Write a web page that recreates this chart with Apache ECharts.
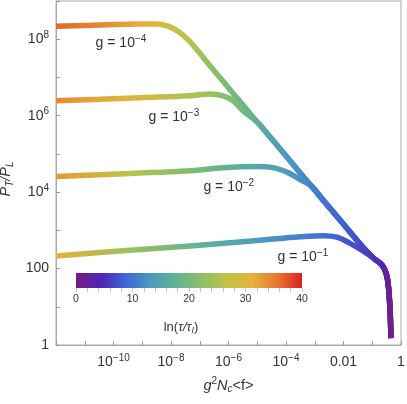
<!DOCTYPE html>
<html>
<head>
<meta charset="utf-8">
<script src="https://cdn.jsdelivr.net/npm/echarts@6/dist/echarts.min.js"></script>
<style>
html, body { margin: 0; padding: 0; background: #fff; }
#chart { width: 407px; height: 404px; }
</style>
</head>
<body>
<div id="chart"></div>
<script>
// every point: [log10(g^2 Nc <f>), log10(P_T/P_L), ln(tau/tau_I)]
// common early-time attractor, from the initial condition upward
var attractor = [
    [-0.35, 0.18, 0],
    [-0.37, 0.73, 0.8],
    [-0.40, 1.17, 1.5],
    [-0.45, 1.62, 2.3],
    [-0.52, 1.88, 3],
    [-0.66, 2.09, 4],
    [-0.97, 2.28, 5.5],
    [-1.43, 2.65, 7],
    [-2.02, 3.18, 8.5],
    [-2.71, 3.79, 10],
    [-3.27, 4.29, 11.5],
    [-3.86, 4.82, 13],
    [-4.45, 5.35, 15],
    [-5.01, 5.84, 17],
    [-5.60, 6.37, 19],
    [-6.19, 6.90, 21],
    [-6.64, 7.30, 23]
];

// late-time branches, one per coupling
var branch4 = [
    [-7.06, 7.69, 24.5], [-7.41, 7.99, 26], [-7.76, 8.21, 27.5], [-8.10, 8.34, 28.5],
    [-8.52, 8.40, 30], [-9.08, 8.40, 31.5], [-10.47, 8.37, 34.5], [-12, 8.34, 36.5]
];
var branch3 = [
    [-5.50, 6.13, 19.5], [-5.84, 6.39, 21], [-6.19, 6.52, 22], [-6.64, 6.57, 23.5],
    [-7.34, 6.52, 25], [-9.08, 6.47, 29.5], [-10.47, 6.43, 32], [-12, 6.39, 34.5]
];
var branch2 = [
    [-3.10, 4.15, 11], [-3.51, 4.33, 12.5], [-3.93, 4.51, 13.5], [-4.45, 4.64, 14.5],
    [-5.01, 4.67, 15.5], [-6.19, 4.64, 18], [-7.34, 4.56, 21], [-9.43, 4.49, 26.5], [-12, 4.41, 33]
];
var branch1 = [
    [-1.36, 2.48, 6.5], [-1.77, 2.66, 7.5], [-2.23, 2.82, 8.5], [-2.71, 2.86, 9.5],
    [-3.51, 2.83, 11], [-4.90, 2.74, 13.5], [-6.99, 2.61, 17.5], [-9.43, 2.48, 23.5], [-12, 2.33, 31]
];

var gExponents = ['\u22124', '\u22123', '\u22122', '\u22121'];
var branches = [branch4, branch3, branch2, branch1];
var sharedCount = [17, 14, 10, 7];   // attractor points followed before branching off

var tauRange = [0, 40];
var palette = ['#781c86', '#4f25b5', '#4067d7', '#4b9bbf', '#62b391',
               '#8cc066', '#bfc348', '#e4b33c', '#e9782f', '#db2122'];

var labelCoords = [[-10.64, 7.90], [-8.80, 5.95], [-6.89, 4.12], [-4.31, 2.30]];

var txt = '#333';
var font = "'Liberation Sans', Arial, sans-serif";

// rich text pieces, all top aligned and shifted with padding (base / superscript / subscript)
function piece(size, top, bottom, italic) {
    return {
        fontSize: size, fontStyle: italic ? 'italic' : 'normal', fontFamily: font, color: txt,
        verticalAlign: 'top', padding: [top, 0, bottom, 0]
    };
}
var rich = {
    b: piece(14, 2, 2, false),
    s: piece(10, 0, 0, false)
};
var nameRich = {
    r: piece(14.5, 2, 2, false),
    i: piece(14.5, 2, 2, true),
    s: piece(10, 0, 0, false),
    u: piece(10, 8, 0, true)
};
var barNameRich = {
    r: piece(13, 2, 2, false),
    i: piece(13, 2, 2, true),
    u: piece(9, 7, 0, true)
};

function xLabel(v) {
    if (v % 2 !== 0 || v <= -12) return '';
    if (v === 0) return '{b|1}';
    if (v === -2) return '{b|0.01}';
    return '{b|10}{s|\u2212' + (-v) + '}';
}
function yLabel(v) {
    if (v % 2 !== 0) return '';
    if (v === 0) return '{b|1}';
    if (v === 2) return '{b|100}';
    return '{b|10}{s|' + v + '}';
}
function tauColor(t) {
    return echarts.color.lerp((t - tauRange[0]) / (tauRange[1] - tauRange[0]), palette);
}

var curves = branches.map(function (b, i) {
    return attractor.slice(0, sharedCount[i]).concat(b);
});

var series = curves.map(function (pts, i) {
    return {
        type: 'line',
        xAxisIndex: 0,
        yAxisIndex: 0,
        data: pts.map(function (p) { return [p[0], p[1]]; }),
        showSymbol: false,
        smooth: 0.4,
        silent: true,
        lineStyle: {width: 5.5, color: tauColor(20)},
        markPoint: {
            symbol: 'circle',
            symbolSize: 1,
            itemStyle: {color: 'rgba(0,0,0,0)'},
            silent: true,
            label: {
                show: true,
                position: 'right',
                distance: 0,
                formatter: '{b|g = 10}{s|' + gExponents[i] + '}',
                rich: rich
            },
            data: [{coord: labelCoords[i]}]
        }
    };
});

series.push({
    type: 'custom',
    xAxisIndex: 1,
    yAxisIndex: 1,
    silent: true,
    data: [tauRange],
    encode: {x: [0, 1]},
    renderItem: function (params, api) {
        var p0 = api.coord([api.value(0), 1]);
        var p1 = api.coord([api.value(1), 0]);
        return {
            type: 'rect',
            shape: {x: p0[0], y: p0[1], width: p1[0] - p0[0], height: p1[1] - p0[1]},
            style: {
                fill: new echarts.graphic.LinearGradient(0, 0, 1, 0, palette.map(function (c, k) {
                    return {offset: k / (palette.length - 1), color: c};
                }))
            }
        };
    }
});

var option = {
    animation: false,
    textStyle: {fontFamily: font},
    grid: [
        {left: 56, right: 6, top: 1, bottom: 59, show: true, borderColor: '#aaa', borderWidth: 1,
         outerBoundsMode: 'none'},
        {left: 76, top: 273, width: 226, height: 15, outerBoundsMode: 'none'}
    ],
    xAxis: [{
        type: 'value', gridIndex: 0, min: -12, max: 0, interval: 1,
        axisLine: {onZero: false, lineStyle: {color: '#aaa'}},
        axisTick: {inside: true, length: 4, lineStyle: {color: '#999'}},
        splitLine: {show: false},
        axisLabel: {formatter: xLabel, rich: rich, margin: 8, showMinLabel: true, showMaxLabel: true},
        name: '{i|g}{s|2}{i|N}{u|c}{r|<f>}',
        nameLocation: 'middle',
        nameGap: 31.5,
        nameTextStyle: {rich: nameRich}
    }, {
        type: 'value', gridIndex: 1, min: tauRange[0], max: tauRange[1], interval: 10,
        axisLine: {show: false, onZero: false},
        axisTick: {show: true, length: 4, lineStyle: {color: '#c4c4c4'}},
        minorTick: {show: true, splitNumber: 5, length: 4, lineStyle: {color: '#c4c4c4'}},
        splitLine: {show: false},
        axisLabel: {color: txt, fontSize: 10.5, margin: 6},
        name: '{r|ln(}{i|τ/τ}{u|I}{r|)}',
        nameLocation: 'middle',
        nameGap: 31,
        nameTextStyle: {padding: [0, 16, 0, 0], rich: barNameRich}
    }],
    yAxis: [{
        type: 'value', gridIndex: 0, min: 0, max: 9, interval: 1,
        axisLine: {onZero: false, lineStyle: {color: '#aaa'}},
        axisTick: {inside: true, length: 4, lineStyle: {color: '#999'}},
        splitLine: {show: false},
        axisLabel: {formatter: yLabel, rich: rich, margin: 7},
        name: '{i|P}{u|T}{i|/P}{u|L}',
        nameLocation: 'middle',
        nameRotate: 90,
        nameGap: 38,
        nameTextStyle: {padding: [0, 12, 0, 0], rich: nameRich}
    }, {
        type: 'value', gridIndex: 1, min: 0, max: 1, show: false
    }],
    series: series
};

var chart = echarts.init(document.getElementById('chart'));
chart.setOption(option);

// colour each curve by ln(tau/tau_I); x falls monotonically along every curve,
// so a horizontal gradient with one stop per point follows the time axis
var lineColors = curves.map(function (pts) {
    var px = pts.map(function (p) { return chart.convertToPixel({gridIndex: 0}, [p[0], p[1]])[0]; });
    var x0 = Math.min.apply(null, px);
    var x1 = Math.max.apply(null, px);
    var stops = pts.map(function (p, k) {
        return {offset: (px[k] - x0) / (x1 - x0), color: tauColor(p[2])};
    });
    stops.sort(function (a, b) { return a.offset - b.offset; });
    return new echarts.graphic.LinearGradient(x0, 0, x1, 0, stops, true);
});
chart.setOption({
    series: lineColors.map(function (c) { return {lineStyle: {color: c}}; })
});
</script>
</body>
</html>
